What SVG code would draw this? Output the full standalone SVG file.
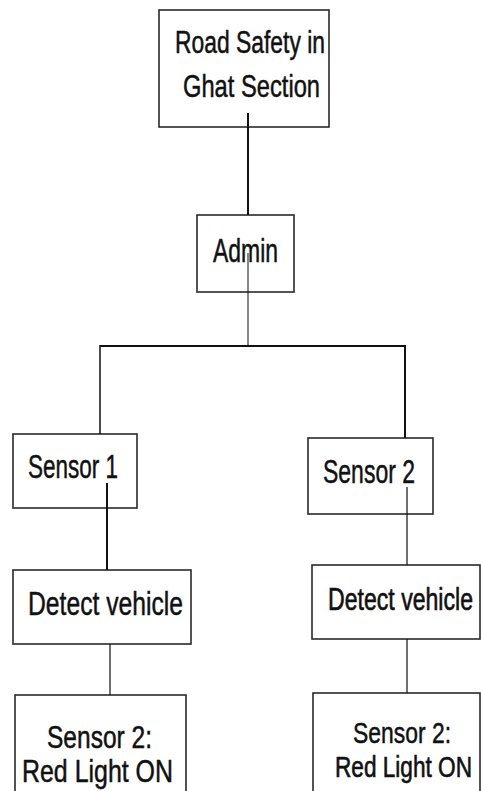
<svg xmlns="http://www.w3.org/2000/svg" width="481" height="791" viewBox="0 0 481 791">
<style>
.box{fill:#fff;stroke:#2a2a2a;stroke-width:1.6}
.t{font-family:"Liberation Sans",Arial,sans-serif;fill:#111;stroke:#111;stroke-width:0.5}
.c{stroke:#111;fill:none}
</style>
<rect width="481" height="791" fill="#fff"/>
<g id="node-top"><rect class="box" x="159" y="10" width="170" height="117"/>
<text class="t" font-size="31" x="175" y="53" textLength="150" lengthAdjust="spacingAndGlyphs">Road Safety in</text>
<text class="t" font-size="32" x="183" y="97" textLength="137" lengthAdjust="spacingAndGlyphs">Ghat Section</text></g>
<g id="node-admin"><rect class="box" x="197" y="215" width="97" height="77"/>
<text class="t" font-size="34" x="213" y="262" textLength="65" lengthAdjust="spacingAndGlyphs">Admin</text></g>
<g id="node-sensor1"><rect class="box" x="13" y="434" width="124" height="74"/>
<text class="t" font-size="33" x="28" y="478" textLength="90" lengthAdjust="spacingAndGlyphs">Sensor 1</text></g>
<g id="node-sensor2"><rect class="box" x="308" y="438" width="125" height="76"/>
<text class="t" font-size="34" x="323" y="483" textLength="92" lengthAdjust="spacingAndGlyphs">Sensor 2</text></g>
<g id="node-detect1"><rect class="box" x="13" y="570" width="178" height="74"/>
<text class="t" font-size="33" x="28" y="615" textLength="155" lengthAdjust="spacingAndGlyphs">Detect vehicle</text></g>
<g id="node-detect2"><rect class="box" x="312" y="565" width="168" height="74"/>
<g transform="translate(328,610) scale(1,1.32)"><text class="t" font-size="24" x="0" y="0" textLength="145" lengthAdjust="spacingAndGlyphs">Detect vehicle</text></g></g>
<g id="node-red1"><rect class="box" x="15" y="695" width="171" height="110"/>
<text class="t" font-size="31" x="47" y="748" textLength="105" lengthAdjust="spacingAndGlyphs">Sensor 2:</text>
<text class="t" font-size="32" x="22" y="782" textLength="151" lengthAdjust="spacingAndGlyphs">Red Light ON</text></g>
<g id="node-red2"><rect class="box" x="313" y="693" width="167" height="110"/>
<text class="t" font-size="30" x="353" y="743" textLength="98" lengthAdjust="spacingAndGlyphs">Sensor 2:</text>
<g transform="translate(335,777) scale(1,1.3)"><text class="t" font-size="23" x="0" y="0" textLength="137" lengthAdjust="spacingAndGlyphs">Red Light ON</text></g></g>
<g id="connectors">
<line class="c" stroke-width="2" x1="248" y1="113" x2="248" y2="215"/>
<line class="c" stroke-width="1" x1="248" y1="253" x2="248" y2="346"/>
<line class="c" stroke-width="2" x1="100" y1="346" x2="405" y2="346"/>
<line class="c" stroke-width="1.5" x1="100" y1="345" x2="100" y2="434"/>
<line class="c" stroke-width="2" x1="405" y1="345" x2="405" y2="438"/>
<line class="c" stroke-width="2" x1="107" y1="483" x2="107" y2="570"/>
<line class="c" stroke-width="1.2" x1="407" y1="487" x2="407" y2="565"/>
<line class="c" stroke-width="1.2" x1="110" y1="644" x2="110" y2="695"/>
<line class="c" stroke-width="1.2" x1="407" y1="639" x2="407" y2="693"/>
</g>
</svg>
